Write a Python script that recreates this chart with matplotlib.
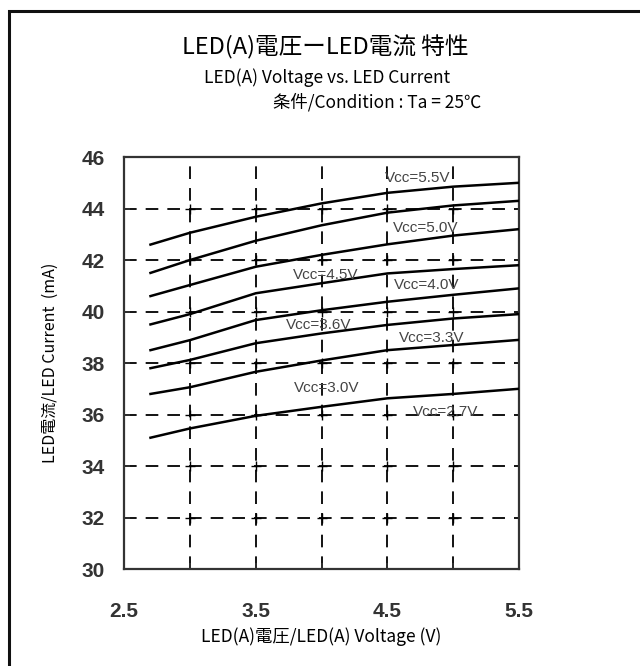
import numpy as np
import matplotlib.pyplot as plt
from matplotlib.patches import Rectangle

# Data
voltage = [2.7, 3.0, 3.5, 4.0, 4.5, 5.0, 5.5]
vcc_labels = ['Vcc=5.5V', 'Vcc=5.0V', 'Vcc=4.5V', 'Vcc=4.0V',
              'Vcc=3.6V', 'Vcc=3.3V', 'Vcc=3.0V', 'Vcc=2.7V']
curve_55 = [42.6, 43.06, 43.68, 44.2, 44.61, 44.85, 45.0]
curve_50 = [41.5, 42.0, 42.75, 43.35, 43.84, 44.12, 44.3]
curve_45 = [40.6, 41.03, 41.74, 42.2, 42.61, 42.95, 43.2]
curve_40 = [39.5, 39.9, 40.71, 41.1, 41.48, 41.65, 41.8]
curve_36 = [38.5, 38.89, 39.67, 40.05, 40.38, 40.65, 40.9]
curve_33 = [37.8, 38.12, 38.77, 39.15, 39.48, 39.73, 39.9]
curve_30 = [36.8, 37.06, 37.66, 38.1, 38.5, 38.7, 38.9]
curve_27 = [35.1, 35.46, 35.95, 36.3, 36.63, 36.8, 37.0]
curves = [curve_55, curve_50, curve_45, curve_40, curve_36, curve_33, curve_30, curve_27]

# label anchor points (data coords)
label_x = [4.73, 4.79, 4.03, 4.80, 3.98, 4.84, 4.04, 4.94]
label_y = [45.18, 43.24, 41.42, 41.03, 39.48, 38.97, 37.03, 36.1]

x_ticks = [2.5, 3.0, 3.5, 4.0, 4.5, 5.0, 5.5]
x_ticklabels = ['2.5', '', '3.5', '', '4.5', '', '5.5']
y_ticks = [30, 32, 34, 36, 38, 40, 42, 44, 46]

jp = ['Noto Sans CJK JP', 'DejaVu Sans']
num_font = ['Liberation Sans']

fig = plt.figure(figsize=(6.4, 6.66), dpi=100)
fig.patches.append(Rectangle((9 / 640, -0.1), 1.2, 1 - 11 / 666 + 0.1,
                             transform=fig.transFigure, fill=False,
                             edgecolor='#111111', linewidth=2.2))

ax = fig.add_axes([0.194, 0.1456, 0.617, 0.6186])

for c in curves:
    ax.plot(voltage, c, color='black', linewidth=1.8, zorder=3)

for lab, lx, ly in zip(vcc_labels, label_x, label_y):
    ax.text(lx, ly, lab, ha='center', va='center', fontsize=11,
            family=num_font, color='#444444', zorder=4)

# dashed grid with small crosses at intersections
for xv in x_ticks[1:-1]:
    ax.axvline(xv, color='black', linewidth=1.3, dashes=(7, 5), zorder=1)
for yv in y_ticks[1:-1]:
    ax.axhline(yv, color='black', linewidth=1.3, dashes=(7, 5), zorder=1)
gx, gy = np.meshgrid(x_ticks[1:-1], y_ticks[1:-1])
ax.plot(gx.ravel(), gy.ravel(), linestyle='none', marker='+', markersize=7,
        color='black', markeredgewidth=1.0, zorder=2)

ax.set_xlim(2.5, 5.5)
ax.set_ylim(30, 46)
ax.set_xticks(x_ticks)
ax.set_xticklabels(x_ticklabels)
ax.set_yticks(y_ticks)
ax.tick_params(direction='in', length=4, width=1.2, color='#333333')
ax.tick_params(axis='x', pad=24)
ax.tick_params(axis='y', pad=14)
for lbl in ax.get_xticklabels() + ax.get_yticklabels():
    lbl.set_family(num_font)
    lbl.set_fontsize(15)
    lbl.set_fontweight('bold')
    lbl.set_color('#333333')
for s in ax.spines.values():
    s.set_linewidth(1.6)
    s.set_color('#333333')

ax.set_xlabel('LED(A)電圧/LED(A) Voltage (V)', family=jp, fontsize=12.5, labelpad=4)
ax.set_ylabel('LED電流/LED Current  (mA)', family=jp, fontsize=11.5, labelpad=16)

fig.text(325 / 640, 1 - 47 / 666, 'LED(A)電圧ーLED電流 特性', family=jp,
         fontsize=17, ha='center', va='center')
fig.text(327 / 640, 1 - 78 / 666, 'LED(A) Voltage vs. LED Current', family=jp,
         fontsize=12.5, ha='center', va='center')
fig.text(377 / 640, 1 - 102 / 666, '条件/Condition : Ta = 25℃', family=jp,
         fontsize=12.5, ha='center', va='center')

fig.savefig('out.png', dpi=100)
